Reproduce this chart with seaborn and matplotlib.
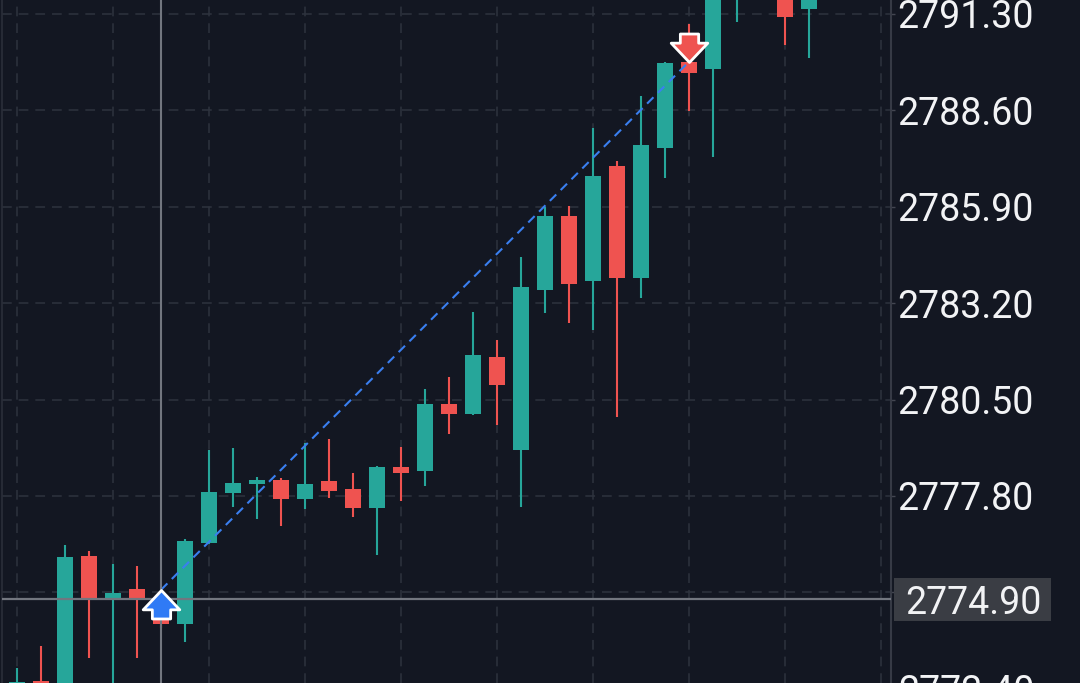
import numpy as np
import pandas as pd
import matplotlib.pyplot as plt
from matplotlib.path import Path
from matplotlib.patches import Rectangle
import seaborn as sns

# candles (one per bar, left to right)
opens = [2772.00, 2772.62, 2772.40, 2776.12, 2774.92, 2775.19, 2774.90, 2774.21,
         2776.48, 2777.88, 2778.13, 2778.25, 2777.71, 2778.22, 2778.00, 2777.46,
         2778.61, 2778.50, 2780.38, 2780.10, 2781.69, 2779.09, 2783.57, 2785.64,
         2783.82, 2787.04, 2783.91, 2787.55, 2789.96, 2789.76, 2792.00, 2792.20,
         2792.00, 2791.44]
highs = [2772.98, 2773.60, 2776.43, 2776.26, 2775.89, 2775.84, 2775.05, 2776.58,
         2779.09, 2779.14, 2778.33, 2778.30, 2779.28, 2779.40, 2778.44, 2778.63,
         2779.17, 2780.80, 2781.13, 2782.95, 2782.17, 2784.49, 2785.89, 2785.92,
         2788.11, 2787.18, 2789.00, 2789.96, 2791.02, 2792.30, 2792.80, 2793.00,
         2792.30, 2792.20]
lows = [2771.50, 2771.80, 2772.10, 2773.26, 2772.30, 2773.26, 2774.10, 2773.71,
        2776.45, 2777.49, 2777.15, 2776.96, 2777.43, 2777.74, 2777.21, 2776.15,
        2777.66, 2778.08, 2779.54, 2780.08, 2779.79, 2777.49, 2782.92, 2782.64,
        2782.45, 2780.01, 2783.35, 2786.71, 2788.58, 2787.29, 2791.08, 2791.90,
        2790.43, 2790.07]
closes = [2772.59, 2772.20, 2776.09, 2774.91, 2775.08, 2774.90, 2774.22, 2776.54,
          2777.91, 2778.16, 2778.25, 2777.71, 2778.13, 2777.94, 2777.46, 2778.61,
          2778.44, 2780.38, 2780.10, 2781.75, 2780.91, 2783.65, 2785.64, 2783.74,
          2786.76, 2783.91, 2787.63, 2789.93, 2789.65, 2792.00, 2792.40, 2792.80,
          2791.22, 2792.00]

y_ticks = [2775.10, 2777.80, 2780.50, 2783.20, 2785.90, 2788.60, 2791.30]
y_labels = ["", "2777.80", "2780.50", "2783.20", "2785.90", "2788.60", "2791.30"]
low_tick, low_label = 2772.40, "2772.40"

cross_idx, cross_price, cross_label = 6, 2774.90, "2774.90"
buy_idx, buy_price = 6, 2775.17
sell_idx, sell_price = 28, 2789.96

bg = "#131722"
up_col = "#26a69a"
down_col = "#ef5350"
grid_col = "#2e333e"
cross_col = "#72767f"
txt_col = "#f2f3f5"

sns.set_theme(style="dark", rc={"axes.facecolor": bg, "figure.facecolor": bg,
                                "lines.scale_dashes": False})
plt.rcParams['font.family'] = ['Roboto', 'DejaVu Sans']

df = pd.DataFrame({"open": opens, "high": highs, "low": lows, "close": closes})
df["idx"] = np.arange(len(df))
colors = np.where(df["close"] >= df["open"], up_col, down_col)

fig = plt.figure(figsize=(10.8, 6.83), dpi=100)
ax = fig.add_axes([2 / 1080, 0, 889 / 1080, 1])
ax.set_facecolor(bg)

ax.vlines(df["idx"], df["low"], df["high"], colors=colors, lw=1.5, zorder=2)
body = (df["close"] - df["open"]).abs().clip(lower=0.04)
ax.bar(df["idx"], body, bottom=df[["open", "close"]].min(axis=1), width=0.67,
       color=colors, linewidth=0, zorder=3)

# trade line between the two signals
sns.lineplot(x=[buy_idx, sell_idx], y=[buy_price, sell_price], ax=ax,
             color="#3a7ff0", lw=1.5, linestyle=(0, (6.5, 4.5)), zorder=4)

up_arrow = Path([(0, 0), (18, -19), (9, -19), (9, -28), (-9, -28), (-9, -19),
                 (-18, -19), (0, 0)],
                [Path.MOVETO] + [Path.LINETO] * 6 + [Path.CLOSEPOLY])
down_arrow = Path(up_arrow.vertices * [1, -1], up_arrow.codes)
ax.plot(buy_idx, buy_price, marker=up_arrow, ms=41, mfc="#2f7af5", mec="white",
        mew=2, ls="none", zorder=6)
ax.plot(sell_idx, sell_price, marker=down_arrow, ms=41, mfc=down_col, mec="white",
        mew=2, ls="none", zorder=6)

# crosshair
ax.axvline(cross_idx, color=cross_col, lw=1.5, zorder=5)
ax.axhline(cross_price, color=cross_col, lw=1.6, zorder=5)

ax.set_xlim(-0.625, 36.42)
ax.set_ylim(2772.56, 2791.69)
ax.set_xticks(np.arange(0, 37, 4))
ax.tick_params(axis="x", length=0, labelbottom=False)
ax.yaxis.tick_right()
ax.set_yticks(y_ticks, y_labels)
ax.tick_params(axis="y", labelsize=27, labelcolor=txt_col, length=3, width=1,
               color="#434651", pad=1.5)
ax.grid(True, color=grid_col, lw=1.1, ls=(0, (7, 5)), zorder=0)

for s in ["top", "bottom"]:
    ax.spines[s].set_visible(False)
ax.spines["right"].set_color("#363a45")
ax.spines["right"].set_linewidth(1.5)
ax.spines["left"].set_color("#2a2e39")
ax.spines["left"].set_linewidth(1.2)

# price under the crosshair + the cut-off bottom label
ytr = ax.get_yaxis_transform()
ax.add_patch(Rectangle((1.0034, cross_price - 0.59), 0.177, 1.18, transform=ytr,
                       fc="#3a3d44", ec="none", clip_on=False, zorder=7))
ax.text(1.0158, cross_price, cross_label, transform=ytr, ha="left", va="center_baseline",
        fontsize=27, color=txt_col, clip_on=False, zorder=8)
ax.text(1.0079, low_tick, low_label, transform=ytr, ha="left", va="center_baseline",
        fontsize=27, color=txt_col, clip_on=False)

fig.savefig("out.png", dpi=100, facecolor=bg)
